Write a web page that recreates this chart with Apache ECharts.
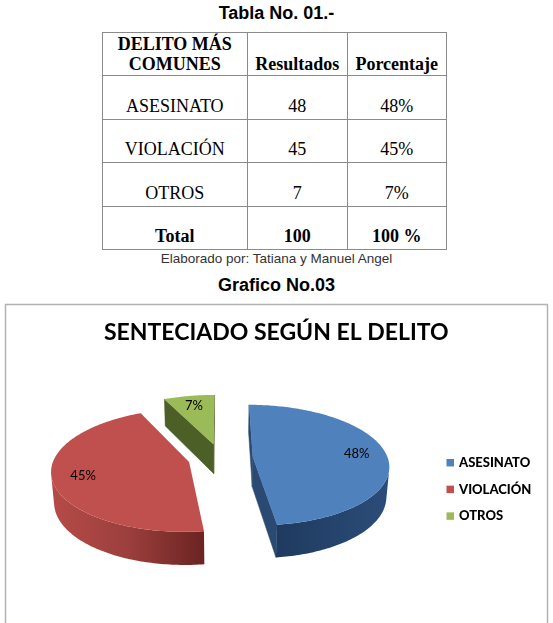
<!DOCTYPE html>
<html>
<head>
<meta charset="utf-8">
<script src="https://cdn.jsdelivr.net/npm/echarts@6/dist/echarts.min.js"></script>
<style>
html,body{margin:0;padding:0;width:553px;height:623px;overflow:hidden;background:#fff;}
.cap{position:absolute;left:0;width:553px;text-align:center;font-family:"Liberation Sans",Arial,sans-serif;color:#000;}
#t1{top:3px;font-weight:bold;font-size:18px;line-height:20px;}
#t2{top:250.5px;font-size:13.5px;line-height:16px;color:#333;}
#t3{top:274.5px;font-weight:bold;font-size:18px;line-height:20px;}
#tbl{position:absolute;left:101.5px;top:31.5px;border-collapse:collapse;table-layout:fixed;width:344.5px;
 font-family:"Liberation Serif","Times New Roman",serif;font-size:18px;color:#000;}
#tbl td{border:1.5px solid #8a8a8a;text-align:center;vertical-align:bottom;padding:0 0 2px 0;line-height:20.7px;}
#tbl tr{height:43.5px;}
#tbl tr.h td{padding-bottom:0;}
#tbl .b{font-weight:bold;}
#chart{position:absolute;left:0;top:296px;width:553px;height:327px;}
</style>
</head>
<body>
<div class="cap" id="t1">Tabla No. 01.-</div>
<table id="tbl">
<colgroup><col style="width:145.5px"><col style="width:99.5px"><col style="width:99.5px"></colgroup>
<tbody id="tb"></tbody>
</table>
<div class="cap" id="t2">Elaborado por: Tatiana y Manuel Angel</div>
<div class="cap" id="t3">Grafico No.03</div>
<div id="chart"></div>
<script>
// ---- data ----
const headers = ['DELITO MÁS<br>COMUNES', 'Resultados', 'Porcentaje'];
const categories = ['ASESINATO', 'VIOLACIÓN', 'OTROS'];
const results = [48, 45, 7];
const percents = ['48%', '45%', '7%'];
const totalRow = ['Total', '100', '100 %'];
const chartTitle = 'SENTECIADO SEGÚN EL DELITO';

// ---- table ----
(function(){
  const tb = document.getElementById('tb');
  let html = '<tr class="h">' + headers.map(h => '<td class="b">' + h + '</td>').join('') + '</tr>';
  categories.forEach((c, i) => {
    html += '<tr><td>' + c + '</td><td>' + results[i] + '</td><td>' + percents[i] + '</td></tr>';
  });
  html += '<tr>' + totalRow.map(t => '<td class="b">' + t + '</td>').join('') + '</tr>';
  tb.innerHTML = html;
})();

// ---- 3D pie (perspective) ----
const topColors = ['#4F81BD', '#C0504D', '#9BBB59'];
const wallColors = [['#1f3a5f', '#2b4d79'], ['#b54b48', '#9c3f3d', '#6a2422'], ['#5a702c', '#44561f']];
const radialColors = ['#2a4a73', '#8e3634', '#4c5f26'];

const PIE = {cx: 220.5, cy: 162, S: 135, D: 6.8, phi: 28 * Math.PI / 180, H: 0.25, E: 0.24, labelR: 0.78};
const cphi = Math.cos(PIE.phi), sphi = Math.sin(PIE.phi);
const k0 = PIE.D / (PIE.D - PIE.H * sphi);
const S0 = PIE.S / k0;
const cy0 = PIE.cy + PIE.S * PIE.H * cphi;
function proj(X, Y, Z) {
  const depth = PIE.D + Z * cphi - Y * sphi;
  const up = Y * cphi + Z * sphi;
  const k = PIE.D / depth;
  return [PIE.cx + S0 * X * k, cy0 - S0 * up * k];
}
const camZ = -PIE.D * cphi;
const total = results.reduce((a, b) => a + b, 0);
const starts = [];
results.reduce((acc, v, i) => { starts[i] = acc; return acc + v; }, 0);

function makeRender(k) {
  return function (params, api) {
    const v = api.value(0);
    const a0 = starts[k] / total * Math.PI * 2;
    const a1 = a0 + v / total * Math.PI * 2;
    const m = (a0 + a1) / 2;
    const ox = PIE.E * Math.sin(m), oz = PIE.E * Math.cos(m);
    const H = PIE.H;
    const rim = (t, Y) => proj(ox + Math.sin(t), Y, oz + Math.cos(t));
    const children = [];
    // radial faces
    [[a0, -1], [a1, 1]].forEach(([t, sg]) => {
      const nx = sg * Math.cos(t), nz = -sg * Math.sin(t);
      const px = ox + 0.5 * Math.sin(t), pz = oz + 0.5 * Math.cos(t);
      if (nx * (0 - px) + nz * (camZ - pz) > 0) {
        children.push({type: 'polygon', shape: {points: [proj(ox, H, oz), rim(t, H), rim(t, 0), proj(ox, 0, oz)]},
          style: {fill: radialColors[k], stroke: radialColors[k], lineWidth: 0.5}});
      }
    });
    // outer wall
    const N = Math.max(2, Math.ceil((a1 - a0) / (Math.PI / 180)));
    let run = [];
    const flush = () => {
      if (run.length >= 2) {
        const pts = run.map(t => rim(t, H)).concat(run.slice().reverse().map(t => rim(t, 0)));
        const cols = wallColors[k];
        const stops = cols.map((c, i) => ({offset: i / (cols.length - 1), color: c}));
        children.push({type: 'polygon', shape: {points: pts},
          style: {fill: new echarts.graphic.LinearGradient(0, 0, 1, 0, stops)}});
      }
      run = [];
    };
    for (let i = 0; i <= N; i++) {
      const t = a0 + (a1 - a0) * i / N;
      const st = Math.sin(t), ct = Math.cos(t);
      const vis = st * (0 - ox - st) + ct * (camZ - oz - ct) > 0;
      if (vis) run.push(t); else flush();
    }
    flush();
    // top face
    const tp = [proj(ox, H, oz)];
    for (let i = 0; i <= N; i++) tp.push(rim(a0 + (a1 - a0) * i / N, H));
    children.push({type: 'polygon', shape: {points: tp}, style: {fill: topColors[k]}});
    // label
    const lp = proj(ox + PIE.labelR * Math.sin(m), H, oz + PIE.labelR * Math.cos(m));
    children.push({type: 'text', style: {text: Math.round(v / total * 100) + '%', x: lp[0], y: lp[1],
      align: 'center', verticalAlign: 'middle', fontFamily: 'Lato', fontSize: 13, fill: '#000'}});
    return {type: 'group', children: children};
  };
}

const chart = echarts.init(document.getElementById('chart'), null, {renderer: 'canvas'});
chart.setOption({
  animation: false,
  backgroundColor: 'transparent',
  title: {text: chartTitle, left: 104, top: 23, padding: 0,
    textStyle: {fontFamily: 'Lato', fontWeight: 'bold', fontSize: 23, lineHeight: 28, color: '#000'}},
  legend: {orient: 'vertical', left: 446.5, top: 159.7, padding: 0, itemWidth: 7.5, itemHeight: 7.5, itemGap: 12.7,
    icon: 'rect', data: categories,
    textStyle: {fontFamily: 'Lato', fontWeight: 900, fontSize: 13, lineHeight: 14, color: '#000'}},
  graphic: [{type: 'rect', silent: true, z: -1,
    shape: {x: 5.5, y: 8.5, width: 542, height: 400},
    style: {fill: 'none', stroke: '#b3b3b3', lineWidth: 1.5}}],
  series: categories.map((c, k) => ({
    type: 'custom', name: c, coordinateSystem: 'none',
    z: Math.round(10 - 5 * Math.cos(((starts[k] + results[k] / 2) / total) * Math.PI * 2)),
    itemStyle: {color: topColors[k]},
    data: [[results[k]]],
    renderItem: makeRender(k)
  }))
});
</script>
</body>
</html>
